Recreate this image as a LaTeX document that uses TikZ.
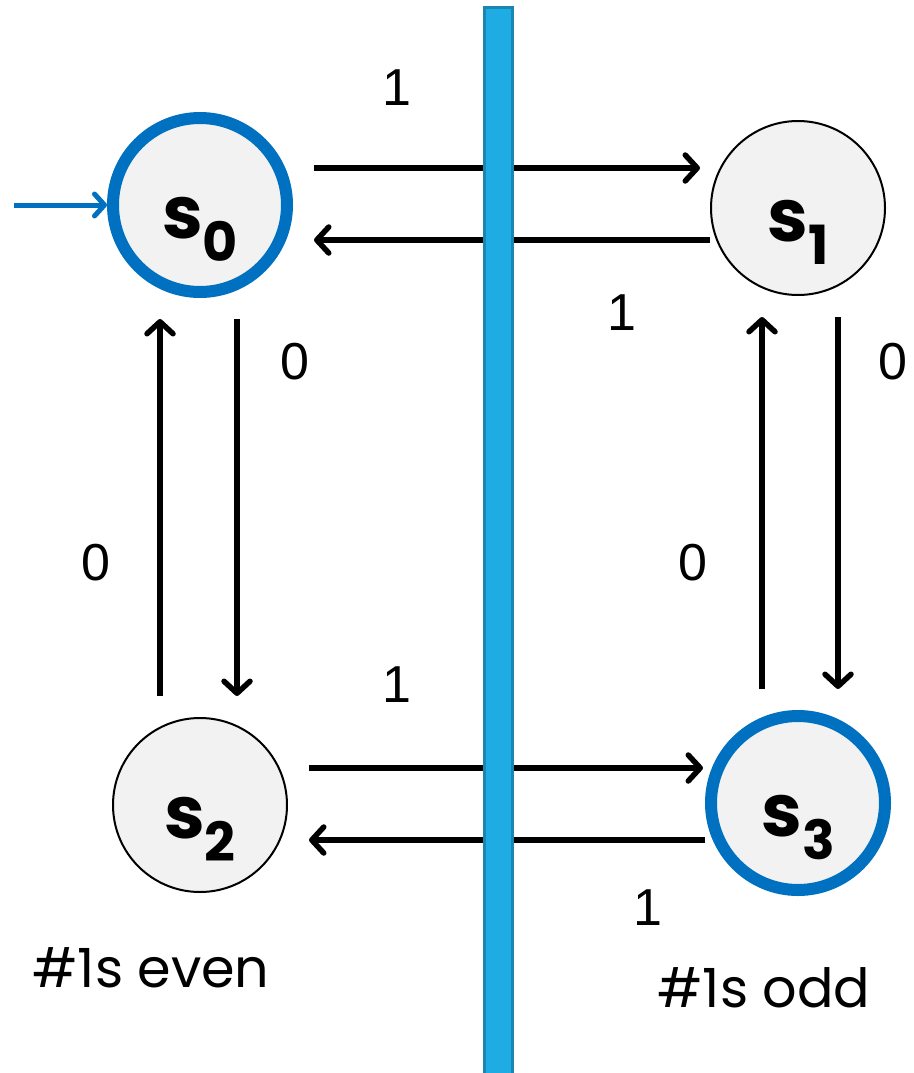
\documentclass[tikz,border=0pt]{standalone}
\usepackage{fontspec}
\setmainfont{Poppins}
\newfontfamily\digitfont{Liberation Sans}
\usetikzlibrary{arrows.meta}
\definecolor{fsmblue}{RGB}{0,112,192}
\definecolor{barblue}{RGB}{31,171,227}
\definecolor{baredge}{RGB}{26,135,176}
\definecolor{stategray}{RGB}{242,242,242}
\newcommand{\stname}[1]{{\fontsize{73}{73}\selectfont\bfseries s}\raisebox{-23pt}{\fontsize{54}{54}\selectfont\bfseries #1}}

\begin{document}
\begin{tikzpicture}[x=1pt, y=-1pt,
  state/.style={circle, draw, line width=2pt, fill=stategray, minimum size=174pt, inner sep=0pt, text height=66pt, text depth=0pt},
  accept/.style={state, draw=fsmblue, line width=12pt},
  arr/.style={-{Straight Barb[length=12pt,width=26pt,round]}, line width=5.5pt, shorten <=21pt, shorten >=21pt},
  lbl/.style={font=\digitfont\fontsize{52}{52}\selectfont, inner sep=0pt},
  note/.style={font=\fontsize{54}{54}\selectfont, inner sep=0pt}]
\useasboundingbox (0,0) rectangle (913,1073);
% States
\node[accept] (s0) at (200,205) {\stname{0}};
\node[state] (s1) at (798,208) {\stname{1}};
\node[state] (s2) at (200,805) {\stname{2}};
\node[accept] (s3) at (798,803) {\stname{3}};
% Start
\coordinate (start) at (14,205);
\draw[-{Straight Barb[length=10pt,width=22pt,round]}, line width=5pt, fsmblue] (start) -- (s0.west);
% Reading a 1
\draw[arr, shorten >=10pt] ([yshift=37pt]s0.east) -- ([yshift=37pt]s0.east -| s1.west);
\draw[arr, shorten <=0pt] ([yshift=-32pt]s1.west) -- ([yshift=-32pt]s1.west -| s0.east);
\draw[arr, shorten >=2pt] ([yshift=37pt]s2.east) -- ([yshift=37pt]s2.east -| s3.west);
\draw[arr, shorten <=0pt] ([yshift=-37pt]s3.west) -- ([yshift=-37pt]s3.west -| s2.east);
% Reading a 0
\draw[arr] ([xshift=37pt]s0.south) -- ([xshift=37pt]s0.south |- s2.north);
\draw[arr] ([xshift=-40pt]s2.north) -- ([xshift=-40pt]s2.north |- s0.south);
\draw[arr] ([xshift=40pt]s1.south) -- ([xshift=40pt]s1.south |- s3.north);
\draw[arr] ([xshift=-36pt]s3.north) -- ([xshift=-36pt]s3.north |- s1.south);
% Divider
\draw[fill=barblue, draw=baredge, line width=3pt] (484,8) rectangle (512,1080);
% Labels
\node[lbl] (l01) at (397,88) {1};
\node[lbl] (l10) at (622,313) {1};
\node[lbl] (l23) at (397,685) {1};
\node[lbl] (l32) at (648,908) {1};
\node[lbl] (l02) at (295,362) {0};
\node[lbl] (l20) at (96,563) {0};
\node[lbl] (l31) at (693,563) {0};
\node[lbl] (l13) at (893,362) {0};
\node[note] (even) at (151,968) {\#1s even};
\node[note] (odd) at (764,988) {\#1s odd};
\end{tikzpicture}
\end{document}
